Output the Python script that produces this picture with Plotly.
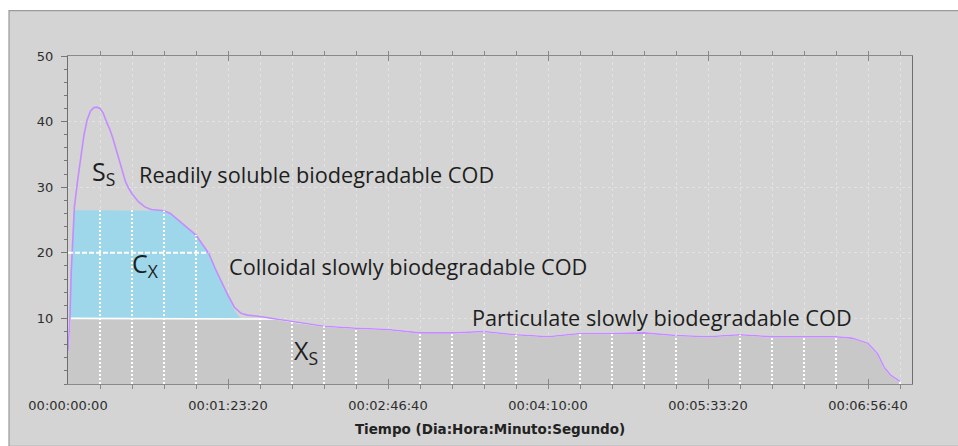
import numpy as np
import plotly.graph_objects as go

# Data: COD fractions vs time (seconds)
t_s = [0, 60, 100, 150, 200, 300, 400, 500, 600, 700, 800, 900, 1000, 1100, 1200,
       1300, 1400, 1500, 1600, 1700, 1800, 1900, 2000, 2200, 2400, 2600, 2800, 3000,
       3200, 3400, 3600, 3800, 4000, 4200, 4400, 4600, 4800, 5000, 5200, 5400, 5600,
       6000, 6500, 7000, 7500, 8000, 9000, 10000, 11000, 12000, 13000, 14000, 15000,
       16000, 17000, 18000, 19000, 20000, 21000, 22000, 23000, 24000, 24500, 25000,
       25300, 25500, 25700, 26000]

# particulate slowly biodegradable (gray)
xs = [5, 10, 10, 10, 10, 10, 10, 10, 10, 10, 10, 10, 10, 10, 10,
      10, 10, 10, 10, 10, 10, 10, 10, 10, 10, 10, 10, 10,
      10, 10, 10, 10, 10, 10, 10, 10, 10, 10, 10, 10, 10,
      10, 9.9, 9.5, 9.2, 8.8, 8.5, 8.3, 7.8, 7.8, 8.0, 7.5, 7.2,
      7.7, 7.7, 7.8, 7.4, 7.2, 7.5, 7.2, 7.2, 7.2, 7.0, 6.2,
      4.6, 2.6, 1.4, 0.4]

# colloidal slowly biodegradable (blue)
cx = [0, 0, 7, 13, 16.5, 16.5, 16.5, 16.5, 16.5, 16.5, 16.5, 16.5, 16.5, 16.5, 16.5,
      16.5, 16.5, 16.5, 16.5, 16.5, 16.5, 16.5, 16.5, 16.5, 16.5, 16.5, 16.5, 16.4,
      16.0, 15.2, 14.4, 13.6, 12.7, 11.3, 9.9, 7.6, 5.5, 3.5, 1.2, 0, 0,
      0, 0, 0, 0, 0, 0, 0, 0, 0, 0, 0, 0,
      0, 0, 0, 0, 0, 0, 0, 0, 0, 0, 0,
      0, 0, 0, 0]

# readily soluble biodegradable (on top)
ss = [0, 0, 0, 0, 0.5, 4.5, 8.3, 11.5, 13.8, 15.1, 15.6, 15.7, 15.5, 14.8, 13.5,
      12.4, 11.0, 9.3, 7.5, 5.7, 4.3, 3.3, 2.5, 1.3, 0.5, 0.1, 0, 0,
      0, 0, 0, 0, 0, 0, 0, 0, 0, 0, 0.5, 0.8, 0.5,
      0.3, 0, 0, 0, 0, 0, 0, 0, 0, 0, 0, 0,
      0, 0, 0, 0, 0, 0, 0, 0, 0, 0, 0,
      0, 0, 0, 0]

tick_vals = [0, 5000, 10000, 15000, 20000, 25000]
tick_text = ['00:00:00:00', '00:01:23:20', '00:02:46:40',
             '00:04:10:00', '00:05:33:20', '00:06:56:40']

W, H = 958, 446
ML, MR, MT, MB = 68, 46, 56, 58
PW, PH = W - ML - MR, H - MT - MB

fig = go.Figure()

fig.add_trace(go.Scatter(x=t_s, y=xs, stackgroup='cod', mode='lines',
                         line=dict(color='white', width=1.6),
                         fillcolor='#c8c8c8', hoverinfo='skip'))
fig.add_trace(go.Scatter(x=t_s, y=cx, stackgroup='cod', mode='lines',
                         line=dict(width=0),
                         fillcolor='#9dd7e9', hoverinfo='skip'))

# white dotted grid lines drawn over the filled part
t_arr = np.array(t_s)
top = np.array(xs) + np.array(cx)
gx, gy = [], []
for g in range(1000, 26001, 1000):
    if g % 5000 == 0:
        continue
    i = int(np.where(t_arr == g)[0][0])
    gx += [g, g, None]
    gy += [0, top[i], None]
fig.add_trace(go.Scatter(x=gx, y=gy, mode='lines', hoverinfo='skip',
                         line=dict(color='white', width=2, dash='2px,2px')))

i_peak = int(np.argmax(top))
desc_t = t_arr[i_peak:][::-1]
desc_top = top[i_peak:][::-1]
x_end20 = float(np.interp(20, desc_top, desc_t))
fig.add_trace(go.Scatter(x=[0, x_end20], y=[20, 20], mode='lines', hoverinfo='skip',
                         line=dict(color='white', width=2, dash='5px,2px')))

fig.add_trace(go.Scatter(x=t_s, y=ss, stackgroup='cod', mode='lines',
                         line=dict(color='#c48cff', width=1.6),
                         fillcolor='rgba(0,0,0,0)', hoverinfo='skip'))

# outer gray panel
fig.add_shape(type='rect', xref='paper', yref='paper', layer='below',
              x0=(9 - ML) / PW, x1=(W + 5 - ML) / PW,
              y0=-(MB + 5) / PH, y1=(H - MB - 10) / PH,
              fillcolor='#d4d4d4', line=dict(color='#9a9a9a', width=1.2))

lab_font = dict(family='Open Sans', size=21.7, color='#1e1e1e')
sym_font = dict(family='Open Sans', size=25, color='#1e1e1e')
ann = [
    (690, 32.3, 'S<sub>S</sub>', sym_font),
    (2150, 31.9, 'Readily soluble biodegradable COD', lab_font),
    (1940, 18.2, 'C<sub>X</sub>', sym_font),
    (4980, 17.9, 'Colloidal slowly biodegradable COD', lab_font),
    (7000, 4.9, 'X<sub>S</sub>', sym_font),
    (12550, 10.2, 'Particulate slowly biodegradable COD', lab_font),
]
for ax_, ay_, txt, fnt in ann:
    fig.add_annotation(x=ax_, y=ay_, xref='x', yref='y', text=txt, showarrow=False,
                       xanchor='left', yanchor='middle', font=fnt)

tick_font = dict(family='DejaVu Sans', size=13, color='#2e2e2e')

fig.update_xaxes(range=[0, 26375], tickvals=tick_vals, ticktext=tick_text,
                 ticks='inside', ticklen=5, tickcolor='#888888',
                 showgrid=False, zeroline=False,
                 showline=True, linecolor='#8a8a8a', linewidth=1.2, mirror='ticks',
                 tickfont=tick_font, ticklabelstandoff=9,
                 minor=dict(dtick=1000, tick0=0, ticks='outside', ticklen=4,
                            tickcolor='#888888', showgrid=True,
                            gridcolor='#e2e2e2', griddash='dot', gridwidth=1),
                 title=dict(text='<b>Tiempo (Dia:Hora:Minuto:Segundo)</b>',
                            font=dict(family='DejaVu Sans', size=13.5, color='#222222'),
                            standoff=12))
fig.update_yaxes(range=[0, 50], tickvals=[10, 20, 30, 40, 50],
                 ticks='outside', ticklen=6, tickcolor='#777777',
                 showgrid=True, gridcolor='#e2e2e2', griddash='dot', gridwidth=1,
                 zeroline=False, showline=True, linecolor='#6e6e6e', linewidth=1.2,
                 mirror=True, tickfont=tick_font, ticklabelstandoff=5,
                 minor=dict(dtick=2, ticks='outside', ticklen=3, tickcolor='#777777'))

fig.update_layout(width=W, height=H, margin=dict(l=ML, r=MR, t=MT, b=MB),
                  paper_bgcolor='white', plot_bgcolor='white', showlegend=False)

# drop the default 8px body margin so the figure fills the window
fig.write_html("out.html", config={'displayModeBar': False},
               post_script="document.body.style.margin='0';")
